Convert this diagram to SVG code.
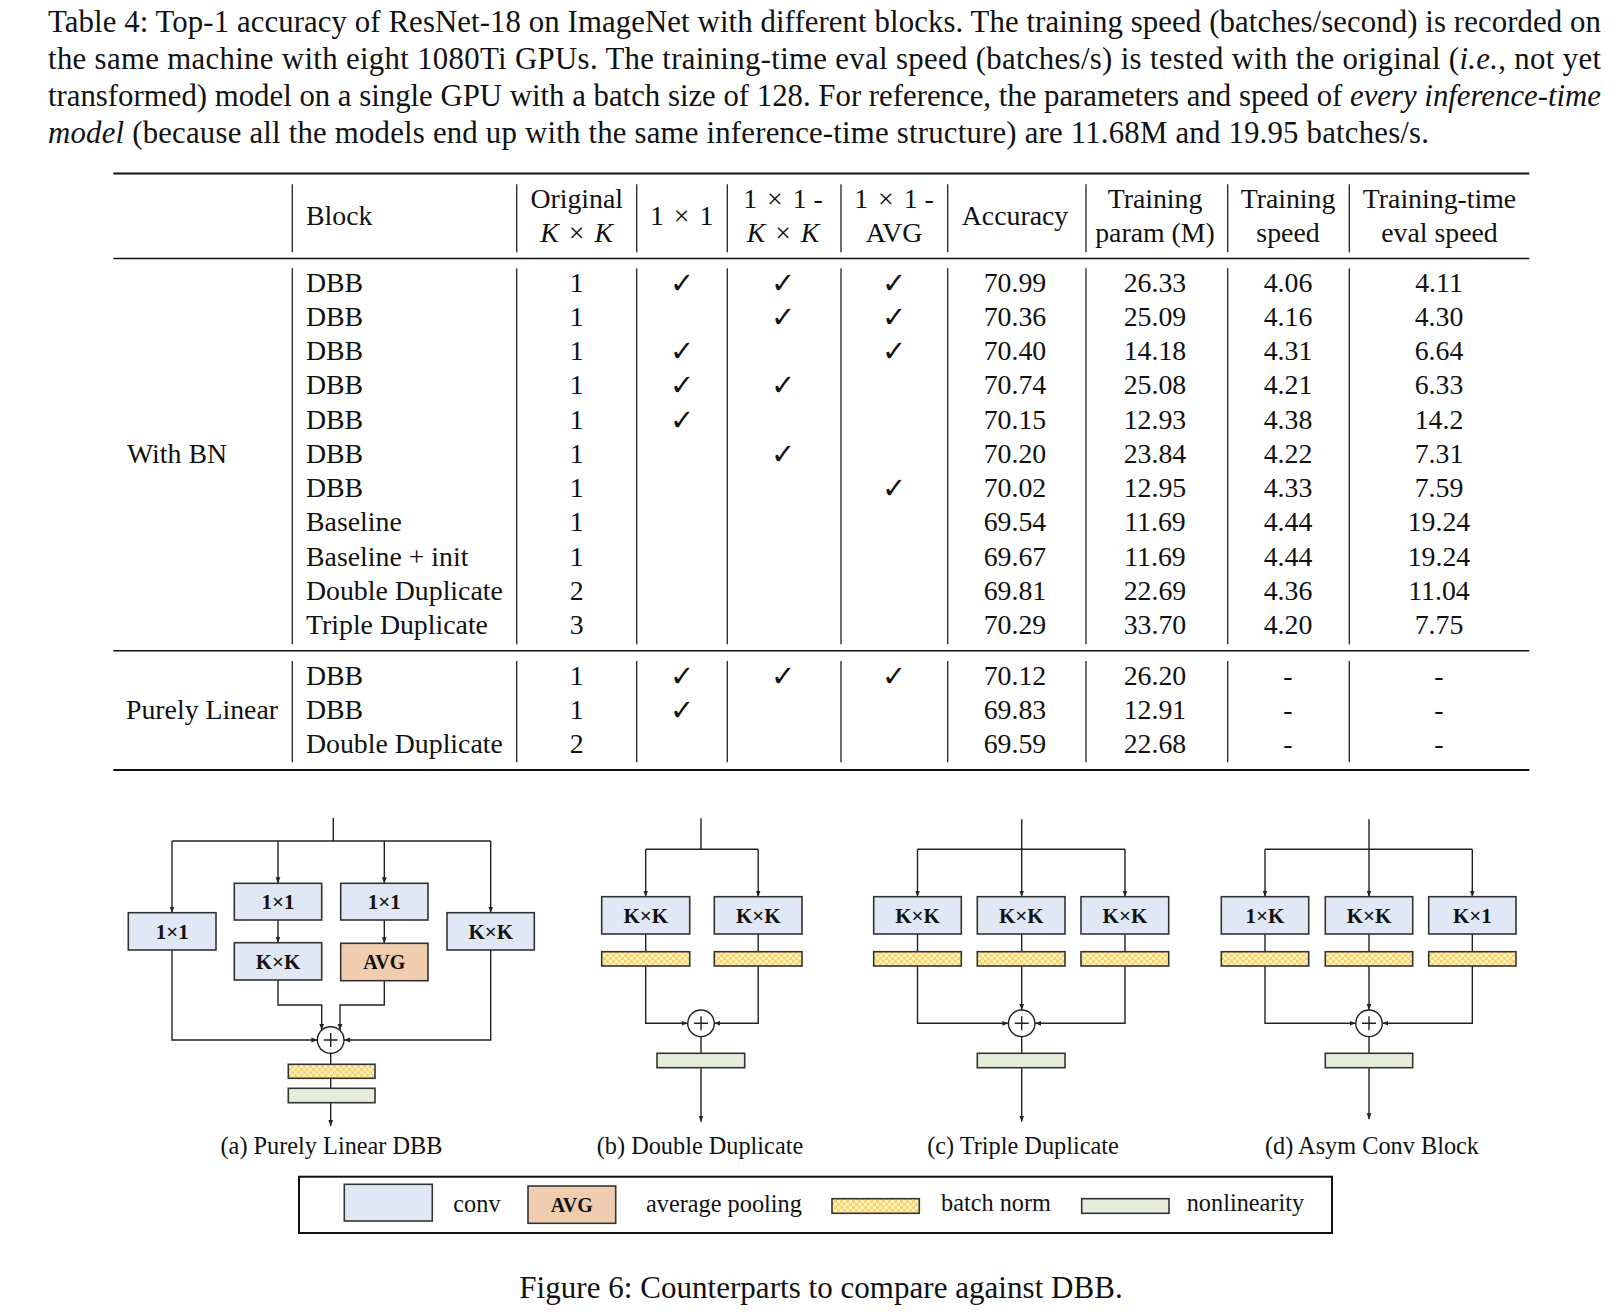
<svg xmlns="http://www.w3.org/2000/svg" width="1623" height="1312" viewBox="0 0 1623 1312">
<defs>
<pattern id="chk" width="6" height="6" patternUnits="userSpaceOnUse">
<rect width="6" height="6" fill="#fdf0c2"/>
<rect width="3" height="3" fill="#f7d56f"/>
<rect x="3" y="3" width="3" height="3" fill="#f7d56f"/>
</pattern>
<marker id="ah" viewBox="0 0 6 6" refX="6" refY="3" markerWidth="6" markerHeight="6" markerUnits="userSpaceOnUse" orient="auto">
<path d="M0,0.6 L6,3 L0,5.4 z" fill="#222"/>
</marker>
<style>
text{font-family:"Liberation Serif","Times New Roman",serif;fill:#111}
.cap{font-size:30.8px}
.it{font-style:italic}
.tb{font-size:27.8px;text-anchor:middle}
.tl{font-size:27.8px}
.mx{word-spacing:3px}
.ck{font-family:"DejaVu Sans",sans-serif;font-size:29px;text-anchor:middle}
.rule{stroke:#111;fill:none}
.vl{stroke:#222;stroke-width:1.3;fill:none}
.conv{fill:#dfe8f4;stroke:#333;stroke-width:1.6}
.avg{fill:#f1cdb0;stroke:#333;stroke-width:1.6}
.bn{fill:url(#chk);stroke:#333;stroke-width:1.6}
.nl{fill:#e4eedb;stroke:#333;stroke-width:1.6}
.add{fill:#fff;stroke:#222;stroke-width:1.4}
.plus{stroke:#222;stroke-width:1.4}
.lbl{font-weight:bold;font-size:21px;text-anchor:middle}
.albl{font-weight:bold;font-size:20px;text-anchor:middle}
.w{fill:none;stroke:#222;stroke-width:1.4}
.wa{fill:none;stroke:#222;stroke-width:1.4;marker-end:url(#ah)}
.sub{font-size:24.3px;text-anchor:middle}
.leg{font-size:24.3px}
</style>
</defs>
<rect width="1623" height="1312" fill="#fff"/>

<g id="table-caption" class="cap">
<text x="48" y="31.7" textLength="1553" lengthAdjust="spacing">Table 4: Top-1 accuracy of ResNet-18 on ImageNet with different blocks. The training speed (batches/second) is recorded on</text>
<text x="48" y="68.7" textLength="1553" lengthAdjust="spacing">the same machine with eight 1080Ti GPUs. The training-time eval speed (batches/s) is tested with the original (<tspan class="it">i.e.</tspan>, not yet</text>
<text x="48" y="105.7" textLength="1553" lengthAdjust="spacing">transformed) model on a single GPU with a batch size of 128. For reference, the parameters and speed of <tspan class="it">every inference-time</tspan></text>
<text x="48" y="142.7" textLength="1381" lengthAdjust="spacing"><tspan class="it">model</tspan> (because all the models end up with the same inference-time structure) are 11.68M and 19.95 batches/s.</text>
</g>

<g id="table">
<g id="table-rules">
<line class="rule" x1="113.3" y1="173.5" x2="1529.3" y2="173.5" stroke-width="2.2"/>
<line class="rule" x1="113.3" y1="258.5" x2="1529.3" y2="258.5" stroke-width="1.5"/>
<line class="rule" x1="113.3" y1="650.7" x2="1529.3" y2="650.7" stroke-width="1.5"/>
<line class="rule" x1="113.3" y1="770" x2="1529.3" y2="770" stroke-width="2.2"/>
<path class="vl" d="M292.3 184.3V252.3M516.7 184.3V252.3M636.7 184.3V252.3M727.3 184.3V252.3M841 184.3V252.3M947.7 184.3V252.3M1086 184.3V252.3M1227.7 184.3V252.3M1349.3 184.3V252.3"/>
<path class="vl" d="M292.3 268.3V644.3M516.7 268.3V644.3M636.7 268.3V644.3M727.3 268.3V644.3M841 268.3V644.3M947.7 268.3V644.3M1086 268.3V644.3M1227.7 268.3V644.3M1349.3 268.3V644.3"/>
<path class="vl" d="M292.3 661V762.3M516.7 661V762.3M636.7 661V762.3M727.3 661V762.3M841 661V762.3M947.7 661V762.3M1086 661V762.3M1227.7 661V762.3M1349.3 661V762.3"/>
</g>
<g id="table-header">
<text class="tl" x="306" y="225">Block</text>
<text class="tb" x="576.7" y="208.3">Original</text>
<text class="tb mx" x="576.7" y="241.7"><tspan class="it">K</tspan> × <tspan class="it">K</tspan></text>
<text class="tb mx" x="681.7" y="225">1 × 1</text>
<text class="tb" x="783" y="208.3"><tspan class="mx">1 × 1</tspan> -</text>
<text class="tb mx" x="783" y="241.7"><tspan class="it">K</tspan> × <tspan class="it">K</tspan></text>
<text class="tb" x="894" y="208.3"><tspan class="mx">1 × 1</tspan> -</text>
<text class="tb" x="894" y="241.7">AVG</text>
<text class="tb" x="1015" y="225">Accuracy</text>
<text class="tb" x="1155" y="208.3">Training</text>
<text class="tb" x="1155" y="241.7">param (M)</text>
<text class="tb" x="1288" y="208.3">Training</text>
<text class="tb" x="1288" y="241.7">speed</text>
<text class="tb" x="1439.5" y="208.3">Training-time</text>
<text class="tb" x="1439.5" y="241.7">eval speed</text>
</g>
<g id="table-groups">
<text class="tl" x="127" y="462.9">With BN</text>
<text class="tl" x="126" y="718.8">Purely Linear</text>
</g>
<g id="table-block-col" class="tl">
<text x="306" y="291.7">DBB</text>
<text x="306" y="325.9">DBB</text>
<text x="306" y="360.2">DBB</text>
<text x="306" y="394.4">DBB</text>
<text x="306" y="428.6">DBB</text>
<text x="306" y="462.9">DBB</text>
<text x="306" y="497.1">DBB</text>
<text x="306" y="531.3">Baseline</text>
<text x="306" y="565.5">Baseline + init</text>
<text x="306" y="599.8">Double Duplicate</text>
<text x="306" y="634">Triple Duplicate</text>
<text x="306" y="685">DBB</text>
<text x="306" y="718.8">DBB</text>
<text x="306" y="752.6">Double Duplicate</text>
</g>
<g id="table-original-col" class="tb">
<text x="576.7" y="291.7">1</text>
<text x="576.7" y="325.9">1</text>
<text x="576.7" y="360.2">1</text>
<text x="576.7" y="394.4">1</text>
<text x="576.7" y="428.6">1</text>
<text x="576.7" y="462.9">1</text>
<text x="576.7" y="497.1">1</text>
<text x="576.7" y="531.3">1</text>
<text x="576.7" y="565.5">1</text>
<text x="576.7" y="599.8">2</text>
<text x="576.7" y="634">3</text>
<text x="576.7" y="685">1</text>
<text x="576.7" y="718.8">1</text>
<text x="576.7" y="752.6">2</text>
</g>
<g id="table-checks" class="ck">
<text x="681.7" y="292.7">✓</text><text x="783" y="292.7">✓</text><text x="894" y="292.7">✓</text>
<text x="783" y="326.9">✓</text><text x="894" y="326.9">✓</text>
<text x="681.7" y="361.2">✓</text><text x="894" y="361.2">✓</text>
<text x="681.7" y="395.4">✓</text><text x="783" y="395.4">✓</text>
<text x="681.7" y="429.6">✓</text>
<text x="783" y="463.9">✓</text>
<text x="894" y="498.1">✓</text>
<text x="681.7" y="686">✓</text><text x="783" y="686">✓</text><text x="894" y="686">✓</text>
<text x="681.7" y="719.8">✓</text>
</g>
<g id="table-accuracy-col" class="tb">
<text x="1015" y="291.7">70.99</text>
<text x="1015" y="325.9">70.36</text>
<text x="1015" y="360.2">70.40</text>
<text x="1015" y="394.4">70.74</text>
<text x="1015" y="428.6">70.15</text>
<text x="1015" y="462.9">70.20</text>
<text x="1015" y="497.1">70.02</text>
<text x="1015" y="531.3">69.54</text>
<text x="1015" y="565.5">69.67</text>
<text x="1015" y="599.8">69.81</text>
<text x="1015" y="634">70.29</text>
<text x="1015" y="685">70.12</text>
<text x="1015" y="718.8">69.83</text>
<text x="1015" y="752.6">69.59</text>
</g>
<g id="table-param-col" class="tb">
<text x="1155" y="291.7">26.33</text>
<text x="1155" y="325.9">25.09</text>
<text x="1155" y="360.2">14.18</text>
<text x="1155" y="394.4">25.08</text>
<text x="1155" y="428.6">12.93</text>
<text x="1155" y="462.9">23.84</text>
<text x="1155" y="497.1">12.95</text>
<text x="1155" y="531.3">11.69</text>
<text x="1155" y="565.5">11.69</text>
<text x="1155" y="599.8">22.69</text>
<text x="1155" y="634">33.70</text>
<text x="1155" y="685">26.20</text>
<text x="1155" y="718.8">12.91</text>
<text x="1155" y="752.6">22.68</text>
</g>
<g id="table-speed-col" class="tb">
<text x="1288" y="291.7">4.06</text>
<text x="1288" y="325.9">4.16</text>
<text x="1288" y="360.2">4.31</text>
<text x="1288" y="394.4">4.21</text>
<text x="1288" y="428.6">4.38</text>
<text x="1288" y="462.9">4.22</text>
<text x="1288" y="497.1">4.33</text>
<text x="1288" y="531.3">4.44</text>
<text x="1288" y="565.5">4.44</text>
<text x="1288" y="599.8">4.36</text>
<text x="1288" y="634">4.20</text>
<text x="1288" y="685">-</text>
<text x="1288" y="718.8">-</text>
<text x="1288" y="752.6">-</text>
</g>
<g id="table-eval-col" class="tb">
<text x="1439" y="291.7">4.11</text>
<text x="1439" y="325.9">4.30</text>
<text x="1439" y="360.2">6.64</text>
<text x="1439" y="394.4">6.33</text>
<text x="1439" y="428.6">14.2</text>
<text x="1439" y="462.9">7.31</text>
<text x="1439" y="497.1">7.59</text>
<text x="1439" y="531.3">19.24</text>
<text x="1439" y="565.5">19.24</text>
<text x="1439" y="599.8">11.04</text>
<text x="1439" y="634">7.75</text>
<text x="1439" y="685">-</text>
<text x="1439" y="718.8">-</text>
<text x="1439" y="752.6">-</text>
</g>
</g>

<g id="connectors">
<!-- (a) -->
<path class="w" d="M333.3 818V841M172 841H490.7"/>
<path class="wa" d="M172 841V912.7"/>
<path class="wa" d="M278 841V883.3"/>
<path class="wa" d="M384.3 841V883.3"/>
<path class="wa" d="M490.7 841V912.7"/>
<path class="wa" d="M278 920V942.7"/>
<path class="wa" d="M384.3 920V943.3"/>
<path class="wa" d="M278 980V1005H321.7V1030"/>
<path class="wa" d="M384.3 980.7V1005H340V1030"/>
<path class="wa" d="M172 950V1040H317.4"/>
<path class="wa" d="M490.7 950V1040H344"/>
<path class="w" d="M330.7 1053.3V1064.3M330.7 1078.3V1088.3"/>
<path class="wa" d="M330.7 1102.7V1126"/>
<!-- (b) -->
<path class="w" d="M701 818.3V849.3M645.7 849.3H758.2"/>
<path class="wa" d="M645.7 849.3V896.7"/>
<path class="wa" d="M758.2 849.3V896.7"/>
<path class="w" d="M645.7 934V951.7M758.2 934V951.7"/>
<path class="wa" d="M645.7 966V1023.3H687.7"/>
<path class="wa" d="M758.2 966V1023.3H714.3"/>
<path class="w" d="M701 1036.6V1053.3"/>
<path class="wa" d="M701 1067.7V1121.7"/>
<!-- (c) -->
<path class="w" d="M917.5 849.3H1125"/>
<path class="wa" d="M1021.7 819.3V896.7"/>
<path class="wa" d="M917.5 849.3V896.7"/>
<path class="wa" d="M1125 849.3V896.7"/>
<path class="w" d="M917.5 934V951.7M1021.7 934V951.7M1125 934V951.7"/>
<path class="wa" d="M917.5 966V1023.3H1008.4"/>
<path class="wa" d="M1021.7 966V1010"/>
<path class="wa" d="M1125 966V1023.3H1035"/>
<path class="w" d="M1021.7 1036.6V1053.3"/>
<path class="wa" d="M1021.7 1067.7V1121.7"/>
<!-- (d) -->
<path class="w" d="M1265 849.3H1472.3"/>
<path class="wa" d="M1369 819.3V896.7"/>
<path class="wa" d="M1265 849.3V896.7"/>
<path class="wa" d="M1472.3 849.3V896.7"/>
<path class="w" d="M1265 934V951.7M1369 934V951.7M1472.3 934V951.7"/>
<path class="wa" d="M1265 966V1023.3H1355.7"/>
<path class="wa" d="M1369 966V1010"/>
<path class="wa" d="M1472.3 966V1023.3H1382.3"/>
<path class="w" d="M1369 1036.6V1053.3"/>
<path class="wa" d="M1369 1067.7V1119.3"/>
</g>

<g id="fig-a">
<g id="a-conv1x1-left"><rect class="conv" x="128.3" y="912.7" width="87.7" height="37.3"/><text class="lbl" x="172.2" y="938.6">1×1</text></g>
<g id="a-conv1x1-mid"><rect class="conv" x="234.3" y="883.3" width="87.4" height="36.7"/><text class="lbl" x="278" y="908.9">1×1</text></g>
<g id="a-conv1x1-right"><rect class="conv" x="340.7" y="883.3" width="87.3" height="36.7"/><text class="lbl" x="384.3" y="908.9">1×1</text></g>
<g id="a-convKxK-right"><rect class="conv" x="447" y="912.7" width="87.3" height="37.3"/><text class="lbl" x="490.7" y="938.6">K×K</text></g>
<g id="a-convKxK-mid"><rect class="conv" x="234.3" y="942.7" width="87.4" height="37.3"/><text class="lbl" x="278" y="968.6">K×K</text></g>
<g id="a-avg"><rect class="avg" x="340.7" y="943.3" width="87.3" height="37.4"/><text class="albl" x="384.3" y="968.8">AVG</text></g>
<g id="a-add"><circle class="add" cx="330.7" cy="1040" r="13.3"/><path class="plus" d="M323.7 1040H337.7M330.7 1033V1047"/></g>
<g id="a-bn"><rect class="bn" x="288.3" y="1064.3" width="86.7" height="14"/></g>
<g id="a-nl"><rect class="nl" x="288.3" y="1088.3" width="86.7" height="14.4"/></g>
<text class="sub" x="331.5" y="1154.3">(a) Purely Linear DBB</text>
</g>

<g id="fig-b">
<g id="b-convKxK-1"><rect class="conv" x="601.7" y="896.7" width="88" height="37.3"/><text class="lbl" x="645.7" y="922.6">K×K</text></g>
<g id="b-convKxK-2"><rect class="conv" x="714.3" y="896.7" width="87.7" height="37.3"/><text class="lbl" x="758.2" y="922.6">K×K</text></g>
<g id="b-bn-1"><rect class="bn" x="601.7" y="951.7" width="88" height="14.3"/></g>
<g id="b-bn-2"><rect class="bn" x="714.3" y="951.7" width="87.7" height="14.3"/></g>
<g id="b-add"><circle class="add" cx="701" cy="1023.3" r="13.3"/><path class="plus" d="M694 1023.3H708M701 1016.3V1030.3"/></g>
<g id="b-nl"><rect class="nl" x="657" y="1053.3" width="87.7" height="14.4"/></g>
<text class="sub" x="700" y="1154.3">(b) Double Duplicate</text>
</g>

<g id="fig-c">
<g id="c-convKxK-1"><rect class="conv" x="873.7" y="896.7" width="87.6" height="37.3"/><text class="lbl" x="917.5" y="922.6">K×K</text></g>
<g id="c-convKxK-2"><rect class="conv" x="977.3" y="896.7" width="87.7" height="37.3"/><text class="lbl" x="1021.2" y="922.6">K×K</text></g>
<g id="c-convKxK-3"><rect class="conv" x="1081" y="896.7" width="87.7" height="37.3"/><text class="lbl" x="1124.9" y="922.6">K×K</text></g>
<g id="c-bn-1"><rect class="bn" x="873.7" y="951.7" width="87.6" height="14.3"/></g>
<g id="c-bn-2"><rect class="bn" x="977.3" y="951.7" width="87.7" height="14.3"/></g>
<g id="c-bn-3"><rect class="bn" x="1081" y="951.7" width="87.7" height="14.3"/></g>
<g id="c-add"><circle class="add" cx="1021.7" cy="1023.3" r="13.3"/><path class="plus" d="M1014.7 1023.3H1028.7M1021.7 1016.3V1030.3"/></g>
<g id="c-nl"><rect class="nl" x="977.3" y="1053.3" width="87.7" height="14.4"/></g>
<text class="sub" x="1023" y="1154.3">(c) Triple Duplicate</text>
</g>

<g id="fig-d">
<g id="d-conv1xK"><rect class="conv" x="1221.3" y="896.7" width="87.4" height="37.3"/><text class="lbl" x="1265" y="922.6">1×K</text></g>
<g id="d-convKxK"><rect class="conv" x="1325.3" y="896.7" width="87.4" height="37.3"/><text class="lbl" x="1369" y="922.6">K×K</text></g>
<g id="d-convKx1"><rect class="conv" x="1428.7" y="896.7" width="87.3" height="37.3"/><text class="lbl" x="1472.3" y="922.6">K×1</text></g>
<g id="d-bn-1"><rect class="bn" x="1221.3" y="951.7" width="87.4" height="14.3"/></g>
<g id="d-bn-2"><rect class="bn" x="1325.3" y="951.7" width="87.4" height="14.3"/></g>
<g id="d-bn-3"><rect class="bn" x="1428.7" y="951.7" width="87.3" height="14.3"/></g>
<g id="d-add"><circle class="add" cx="1369" cy="1023.3" r="13.3"/><path class="plus" d="M1362 1023.3H1376M1369 1016.3V1030.3"/></g>
<g id="d-nl"><rect class="nl" x="1325.3" y="1053.3" width="87.4" height="14.4"/></g>
<text class="sub" x="1372" y="1154.3">(d) Asym Conv Block</text>
</g>

<g id="legend">
<rect x="299" y="1176.7" width="1033" height="56.3" fill="none" stroke="#111" stroke-width="2"/>
<g id="legend-conv"><rect class="conv" x="344.3" y="1184.3" width="88" height="36.7"/><text class="leg" x="453.3" y="1211.5">conv</text></g>
<g id="legend-avg"><rect class="avg" x="528" y="1186" width="87.7" height="37.3"/><text class="albl" x="571.8" y="1211.5">AVG</text><text class="leg" x="646" y="1211.5">average pooling</text></g>
<g id="legend-bn"><rect class="bn" x="832" y="1198.7" width="87.3" height="14.6"/><text class="leg" x="941" y="1211">batch norm</text></g>
<g id="legend-nl"><rect class="nl" x="1081.7" y="1198.7" width="87.3" height="14.6"/><text class="leg" x="1186.7" y="1211">nonlinearity</text></g>
</g>

<text id="figure-caption" x="519.3" y="1298.3" font-size="31" textLength="603.4" lengthAdjust="spacing">Figure 6: Counterparts to compare against DBB.</text>
</svg>
